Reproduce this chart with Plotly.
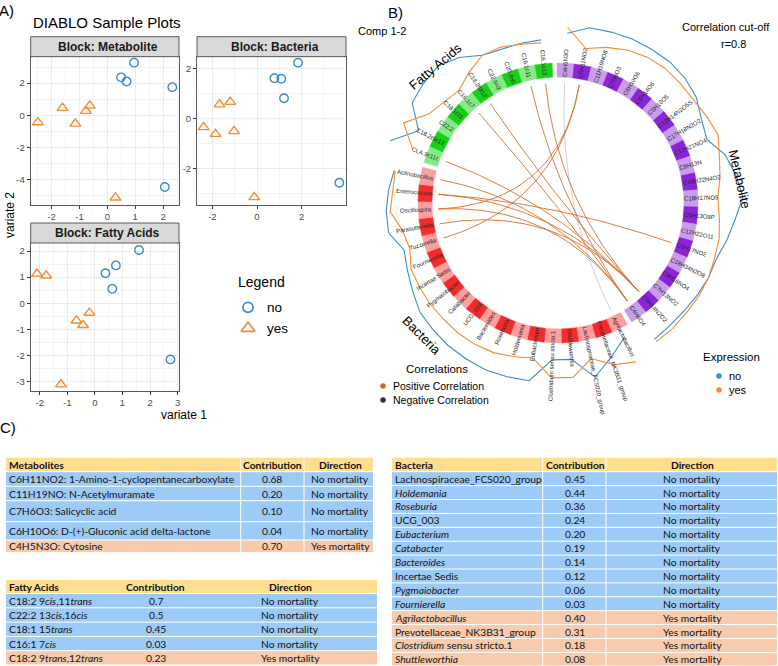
import numpy as np
import plotly.graph_objects as go

W, H = 778, 666
FONT = "Liberation Sans, Arial, Helvetica, sans-serif"
TFONT = "Lato, Carlito, Calibri, sans-serif"
BLUE = "#388ECC"
ORANGE = "#F68B33"

# ---------------- Panel A data (DIABLO sample plots) ----------------
sample_group = ["no", "no", "no", "no", "no", "yes", "yes", "yes", "yes", "yes", "yes"]
met_v1 = [0.96, 0.49, 0.69, 2.33, 2.06, -2.49, -1.61, -1.15, -0.77, -0.63, 0.29]
met_v2 = [3.27, 2.36, 2.10, 1.75, -4.44, -0.43, 0.46, -0.52, 0.27, 0.60, -5.10]
bac_v1 = [1.84, 0.78, 1.09, 1.21, 3.69, -2.39, -1.86, -1.68, -1.20, -1.03, -0.12]
bac_v2 = [2.22, 1.60, 1.58, 0.80, -2.58, -0.36, -0.63, 0.55, 0.65, -0.52, -3.16]
fa_v1 = [1.60, 0.76, 0.38, 0.63, 2.74, -2.10, -1.77, -0.20, -0.67, -0.43, -1.23]
fa_v2 = [2.04, 1.45, 1.15, 0.55, -2.16, 1.13, 1.06, -0.37, -0.67, -0.84, -3.12]
met_xticks = [-2, -1, 0, 1, 2]
met_yticks = [-4, -2, 0, 2]
bac_xticks = [-2, 0, 2]
bac_yticks = [-2, 0, 2]
fa_xticks = [-2, -1, 0, 1, 2, 3]
fa_yticks = [-3, -2, -1, 0, 1, 2]

# ---------------- Panel B data (circos, clockwise from top) ----------------
met_names = ["C4H5N3O", "C6H11NO2", "C11H19NO8", "C7H6O3", "C6H10O6", "C6H14O6", "C5H10O5",
             "C10H14N2O5S", "C17H18N2O2", "C12H21NO4", "C8H13N", "C16H22N4O2", "C18H17NO5",
             "C6H13O9P", "C12H22O11", "C9H17NO2", "C18H34N2O8", "C9H16NO4", "C7H13NO2",
             "C6H14N2O2", "C4H6O4"]
bac_names = ["Agrilactobacillus", "Prevotellaceae_NK3B31_group", "Lachnospiraceae_FCS020_group",
             "Shuttleworthia", "Clostridium sensu stricto.1", "Eubacterium", "Holdemania",
             "Roseburia", "Bacteroides", "UCG_003", "Catabacter", "Pygmaiobacter", "Incertae Sedis",
             "Fournierella", "Tuzzerella", "Parasutterella", "Oscillospira", "Enterococcus",
             "Actinobacillus"]
fa_names = ["CLA.9c11t", "C18.2t9c12", "C22.2", "C18.1t15", "C16.1c7", "C18.2t9t12",
            "C22.6n3", "C20.4n6", "C16.1c11", "C16.1c13"]
# expression profile lines (radial level) for groups "no" (blue) and "yes" (orange)
met_expr_no = [170, 178, 179, 180, 180, 180, 178, 174, 166, 162, 174, 180, 185, 178, 173, 168, 168, 167, 166, 166, 167]
met_expr_yes = [176, 157, 163, 168, 171, 172, 171, 170, 172, 174, 168, 164, 160, 162, 165, 166, 168, 169, 169, 170, 170]
bac_expr_no = [150, 163, 178, 157, 157, 180, 181, 182, 181, 180, 178, 176, 170, 165, 161, 172, 172, 170, 167]
bac_expr_yes = [177, 171, 159, 175, 175, 157, 160, 163, 164, 164, 163, 163, 162, 161, 155, 158, 168, 166, 166]
fa_expr_no = [179, 157, 177, 180, 182, 176, 166, 164, 164, 164]
fa_expr_yes = [155, 174, 157, 152, 150, 158, 166, 166, 163, 161]
# correlations above cut-off (r = 0.8): (feature A, feature B, sign)
links = [("C16.1c13", "C6H14N2O2", 1), ("C16.1c11", "C4H6O4", 1), ("C18.2t9t12", "C6H14N2O2", 1),
         ("C16.1c7", "C4H6O4", 1), ("CLA.9c11t", "C6H14N2O2", 1), ("Actinobacillus", "C4H6O4", 1),
         ("Enterococcus", "C9H17NO2", 1), ("Enterococcus", "C6H14N2O2", 1),
         ("Oscillospira", "C4H6O4", 1), ("Parasutterella", "C6H14N2O2", 1),
         ("Tuzzerella", "C6H11NO2", 1), ("Oscillospira", "C6H11NO2", 1),
         ("C4H5N3O", "Agrilactobacillus", -1)]

# ---------------- Panel C data (tables) ----------------
met_tab_names = ["C6H11NO2: 1-Amino-1-cyclopentanecarboxylate", "C11H19NO: N-Acetylmuramate",
                 "C7H6O3: Salicyclic acid", "C6H10O6: D-(+)-Gluconic acid delta-lactone",
                 "C4H5N3O: Cytosine"]
met_tab_contrib = ["0.68", "0.20", "0.10", "0.04", "0.70"]
met_tab_dir = ["No mortality", "No mortality", "No mortality", "No mortality", "Yes mortality"]
fa_tab_names = ["C18:2 9<i>cis</i>,11<i>trans</i>", "C22:2 13<i>cis</i>,16<i>cis</i>",
                "C18:1 15<i>trans</i>", "C16:1 7<i>cis</i>", "C18:2 9<i>trans</i>,12<i>trans</i>"]
fa_tab_contrib = ["0.7", "0.5", "0.45", "0.03", "0.23"]
fa_tab_dir = ["No mortality", "No mortality", "No mortality", "No mortality", "Yes mortality"]
bac_tab_names = ["Lachnospiraceae_FCS020_group", "<i>Holdemania</i>", "<i>Roseburia</i>", "UCG_003",
                 "<i>Eubacterium</i>", "<i>Catabacter</i>", "<i>Bacteroides</i>", "Incertae Sedis",
                 "<i>Pygmaiobacter</i>", "<i>Fournierella</i>", "<i>Agrilactobacillus</i>",
                 "Prevotellaceae_NK3B31_group", "<i>Clostridium</i> sensu stricto.1", "<i>Shuttleworthia</i>"]
bac_tab_contrib = ["0.45", "0.44", "0.36", "0.24", "0.20", "0.19", "0.14", "0.12", "0.06", "0.03",
                   "0.40", "0.31", "0.18", "0.08"]
bac_tab_dir = ["No mortality"] * 10 + ["Yes mortality"] * 4

fig = go.Figure()
shapes = []
annots = []


def ann(x, y, text, size, ref="5", color="#000000", xanchor="center", yanchor="middle",
        angle=0, family=FONT):
    xr = "paper" if ref == "paper" else "x" + ref
    yr = "paper" if ref == "paper" else "y" + ref
    annots.append(dict(x=x, y=y, xref=xr, yref=yr, text=text, showarrow=False,
                       font=dict(family=family, size=size, color=color), xanchor=xanchor,
                       yanchor=yanchor, textangle=angle, borderpad=0))


# pixel overlay axis (x5/y5) used for legends, labels and tables
fig.layout.xaxis5 = dict(domain=[0, 1], range=[0, W], visible=False, fixedrange=True, anchor="y5")
fig.layout.yaxis5 = dict(domain=[0, 1], range=[H, 0], visible=False, fixedrange=True, anchor="x5")

# ---------------- Panel A ----------------
facet_specs = [
    ("Metabolite", met_v1, met_v2, 1, (30.7, 179.0), (56.7, 205.0), [-2.75, 2.57], [-5.56, 3.64], met_xticks, met_yticks),
    ("Bacteria", bac_v1, bac_v2, 2, (197.0, 346.0), (56.7, 205.0), [-2.69, 3.99], [-3.47, 2.46], bac_xticks, bac_yticks),
    ("Fatty Acids", fa_v1, fa_v2, 3, (30.7, 179.0), (243.0, 391.0), [-2.33, 3.05], [-3.37, 2.31], fa_xticks, fa_yticks),
]


def minor_vals(ticks, rng):
    step = ticks[1] - ticks[0]
    vals = [ticks[0] - step / 2] + [t + step / 2 for t in ticks]
    return [v for v in vals if rng[0] <= v <= rng[1]]


for name, vx, vy, k, (l, r), (t, b), xr, yr, xt, yt in facet_specs:
    xs = "x" if k == 1 else "x%d" % k
    ys = "y" if k == 1 else "y%d" % k
    for grp, sym, col, sz in [("no", "circle-open", BLUE, 8.5), ("yes", "triangle-up-open", ORANGE, 9.5)]:
        idx = [i for i, g in enumerate(sample_group) if g == grp]
        fig.add_trace(go.Scatter(x=[vx[i] for i in idx], y=[vy[i] for i in idx], mode="markers",
                                 xaxis=xs, yaxis=ys, hoverinfo="skip",
                                 marker=dict(symbol=sym, color=col, size=sz, line=dict(width=1.4, color=col))))
    common = dict(showgrid=True, gridcolor="#EBEBEB", gridwidth=1, zeroline=False, showline=True,
                  linecolor="#5A5A5A", linewidth=1, mirror=True, ticks="outside", ticklen=3,
                  tickcolor="#333333", tickfont=dict(family=FONT, size=9.5, color="#4D4D4D"),
                  fixedrange=True, tickmode="array")
    fig.layout["xaxis" if k == 1 else "xaxis%d" % k] = dict(
        domain=[l / W, r / W], range=xr, anchor=ys, tickvals=xt, ticktext=[str(v) for v in xt],
        minor=dict(tickmode="array", tickvals=minor_vals(xt, xr), showgrid=True, gridcolor="#F4F4F4", gridwidth=0.6, ticks=""),
        **common)
    fig.layout["yaxis" if k == 1 else "yaxis%d" % k] = dict(
        domain=[1 - b / H, 1 - t / H], range=yr, anchor=xs, tickvals=yt, ticktext=[str(v) for v in yt],
        minor=dict(tickmode="array", tickvals=minor_vals(yt, yr), showgrid=True, gridcolor="#F4F4F4", gridwidth=0.6, ticks=""),
        **common)
    shapes.append(dict(type="rect", xref="x5", yref="y5", x0=l, x1=r, y0=t - 20, y1=t,
                       fillcolor="#D9D9D9", line=dict(color="#5A5A5A", width=1)))
    ann((l + r) / 2 + 3, t - 10, "<b>Block: %s</b>" % name, 12, color="#1A1A1A")

ann(6, 10, "A)", 15)
ann(32, 22, "DIABLO Sample Plots", 15, xanchor="left")
ann(10, 215, "variate 2", 12, angle=-90)
ann(184, 415, "variate 1", 12)
ann(237, 282, "Legend", 14, xanchor="left")
fig.add_trace(go.Scatter(x=[248], y=[307.3], xaxis="x5", yaxis="y5", mode="markers", hoverinfo="skip",
                         marker=dict(symbol="circle-open", size=10, color=BLUE, line=dict(width=1.8, color=BLUE))))
fig.add_trace(go.Scatter(x=[248], y=[328.3], xaxis="x5", yaxis="y5", mode="markers", hoverinfo="skip",
                         marker=dict(symbol="triangle-up-open", size=12, color=ORANGE, line=dict(width=1.8, color=ORANGE))))
ann(266, 307.5, "no", 13.5, xanchor="left")
ann(266, 328.5, "yes", 13.5, xanchor="left")

# ---------------- Panel B (circos) ----------------
CX, CY = 558, 203
fig.layout.xaxis4 = dict(domain=[380 / W, 1], range=[380 - CX, W - CX], visible=False, fixedrange=True, anchor="y4")
fig.layout.yaxis4 = dict(domain=[1 - 420 / H, 1], range=[-(420 - CY), CY], visible=False, fixedrange=True, anchor="x4")

R_OUT, R_IN, R_LINK, R_LAB = 140, 126, 120, 127
n_total = len(met_names) + len(bac_names) + len(fa_names)
SEG = 7.08
GAP = (360 - n_total * SEG) / 3
START = 90.4

blocks = [
    (met_names, "#8B23D6", "#C99DE9", met_expr_no, met_expr_yes),
    (bac_names, "#F42B2B", "#FF9E9E", bac_expr_no, bac_expr_yes),
    (fa_names, "#19CF19", "#86EA86", fa_expr_no, fa_expr_yes),
]


def text_width(s, size):
    w = 0.0
    for c in s:
        if c in "il.,:;|'tIfjr ":
            w += 0.29
        elif c.isupper() or c.isdigit():
            w += 0.62
        elif c in "mw":
            w += 0.8
        elif c == "_":
            w += 0.55
        else:
            w += 0.52
    return w * size


angle_of = {}
a = START
for names, dark, light, e_no, e_yes in blocks:
    centers = []
    for i, nm in enumerate(names):
        a0 = a - SEG * i
        a1 = a - SEG * (i + 1)
        c = (a0 + a1) / 2
        centers.append(c)
        angle_of[nm] = c
        tt = np.radians(np.linspace(a0, a1, 14))
        xs = np.concatenate([R_OUT * np.cos(tt), R_IN * np.cos(tt[::-1])])
        ys = np.concatenate([R_OUT * np.sin(tt), R_IN * np.sin(tt[::-1])])
        col = light if i % 2 == 0 else dark
        fig.add_trace(go.Scatter(x=list(xs) + [xs[0]], y=list(ys) + [ys[0]], xaxis="x4", yaxis="y4",
                                 mode="lines", fill="toself", fillcolor=col, line=dict(width=0.5, color=col),
                                 hoverinfo="skip"))
        # radial label
        th = ((c + 180) % 360) - 180
        rad = np.radians(th)
        rc = R_LAB + text_width(nm, 6) / 2
        ang = -th if np.cos(rad) >= 0 else 180 - th
        if ang > 180:
            ang -= 360
        ann(rc * np.cos(rad), rc * np.sin(rad), nm, 6, ref="4", color="#262626", angle=ang)
    cr = np.radians(centers)
    for vals, col in [(e_no, BLUE), (e_yes, ORANGE)]:
        v = np.array(vals, dtype=float)
        fig.add_trace(go.Scatter(x=v * np.cos(cr), y=v * np.sin(cr), xaxis="x4", yaxis="y4", mode="lines",
                                 line=dict(color=col, width=1.1), hoverinfo="skip"))
    a = a - SEG * len(names) - GAP

tb = np.linspace(0, 1, 40)
for fa_, fb_, sign in links:
    ta, tb_ = np.radians(angle_of[fa_]), np.radians(angle_of[fb_])
    p0 = np.array([R_LINK * np.cos(ta), R_LINK * np.sin(ta)])
    p2 = np.array([R_LINK * np.cos(tb_), R_LINK * np.sin(tb_)])
    bx = (1 - tb) ** 2 * p0[0] + tb ** 2 * p2[0]
    by = (1 - tb) ** 2 * p0[1] + tb ** 2 * p2[1]
    col = "rgba(214,112,42,0.9)" if sign > 0 else "rgba(130,130,130,0.55)"
    fig.add_trace(go.Scatter(x=bx, y=by, xaxis="x4", yaxis="y4", mode="lines",
                             line=dict(color=col, width=1.0 if sign > 0 else 0.7), hoverinfo="skip"))

ann(395, 12, "B)", 15)
ann(382, 31, "Comp 1-2", 11)
ann(726, 27, "Correlation cut-off", 11)
ann(733, 44, "r=0.8", 11)
ann(435 - CX, CY - 66, "Fatty Acids", 13, ref="4", angle=-40)
ann(740 - CX, CY - 179, "Metabolite", 13, ref="4", angle=77)
ann(422 - CX, CY - 335, "Bacteria", 13, ref="4", angle=45)
ann(437, 369, "Correlations", 11.5)
fig.add_trace(go.Scatter(x=[383, 383], y=[386, 400], xaxis="x5", yaxis="y5", mode="markers", hoverinfo="skip",
                         marker=dict(size=5.5, color=["#D2691E", "#333333"])))
ann(392, 386, "Positive Correlation", 10.5, xanchor="left")
ann(392, 400, "Negative Correlation", 10.5, xanchor="left")
ann(731, 357, "Expression", 11.5)
fig.add_trace(go.Scatter(x=[719, 719], y=[376, 390], xaxis="x5", yaxis="y5", mode="markers", hoverinfo="skip",
                         marker=dict(size=5.5, color=[BLUE, ORANGE])))
ann(728, 376, "no", 11, xanchor="left")
ann(728, 390, "yes", 11, xanchor="left")

# ---------------- Panel C (tables) ----------------
ann(8, 427, "C)", 15)
HEAD, NOFILL, YESFILL = "#FFDF8E", "#9DCBF8", "#F8CBAD"


def table(x0, x1, col_lines, head_top, row_edges, headers, names, contribs, dirs, centers):
    shapes.append(dict(type="rect", xref="x5", yref="y5", x0=x0, x1=x1, y0=head_top, y1=row_edges[0],
                       fillcolor=HEAD, line=dict(width=0)))
    hy = (head_top + row_edges[0]) / 2
    ann(x0 + 1.5, hy, "<b>%s</b>" % headers[0], 10.3, family=TFONT, xanchor="left", color="#111111")
    ann(centers[0], hy, "<b>%s</b>" % headers[1], 10.3, family=TFONT, color="#111111")
    ann(centers[1], hy, "<b>%s</b>" % headers[2], 10.3, family=TFONT, color="#111111")
    for i in range(len(names)):
        y0, y1 = row_edges[i], row_edges[i + 1]
        fill = NOFILL if dirs[i].startswith("No") else YESFILL
        shapes.append(dict(type="rect", xref="x5", yref="y5", x0=x0, x1=x1, y0=y0, y1=y1,
                           fillcolor=fill, line=dict(width=0)))
        ym = (y0 + y1) / 2
        ann(x0 + 1.5, ym, names[i], 10.3, family=TFONT, xanchor="left", color="#111111")
        ann(centers[0], ym, contribs[i], 10.3, family=TFONT, color="#111111")
        ann(centers[1], ym, dirs[i], 10.3, family=TFONT, color="#111111")
    for y in row_edges:
        shapes.append(dict(type="line", xref="x5", yref="y5", x0=x0, x1=x1, y0=y, y1=y,
                           line=dict(color="white", width=1)))
    for x in col_lines:
        shapes.append(dict(type="line", xref="x5", yref="y5", x0=x, x1=x, y0=head_top, y1=row_edges[-1],
                           line=dict(color="white", width=1)))


table(6, 373, [240.7, 304], 457.7, [471.7, 486.3, 500.7, 521.7, 540.0, 552.7],
      ["Metabolites", "Contribution", "Direction"], met_tab_names, met_tab_contrib, met_tab_dir, [272, 340])
table(6, 377, [], 580, [593.5 + 14.3 * i for i in range(len(fa_tab_names) + 1)],
      ["Fatty Acids", "Contribution", "Direction"], fa_tab_names, fa_tab_contrib, fa_tab_dir, [155.5, 290])
table(392, 777, [542.7, 606], 457.7, [min(471.7 + 13.9 * i, 666) for i in range(len(bac_tab_names) + 1)],
      ["Bacteria", "Contribution", "Direction"], bac_tab_names, bac_tab_contrib, bac_tab_dir, [575, 692])

fig.update_layout(width=W, height=H, margin=dict(l=0, r=0, t=0, b=0), paper_bgcolor="white",
                  plot_bgcolor="rgba(0,0,0,0)", showlegend=False, shapes=shapes, annotations=annots,
                  hovermode=False)
fig.write_html("out.html")
